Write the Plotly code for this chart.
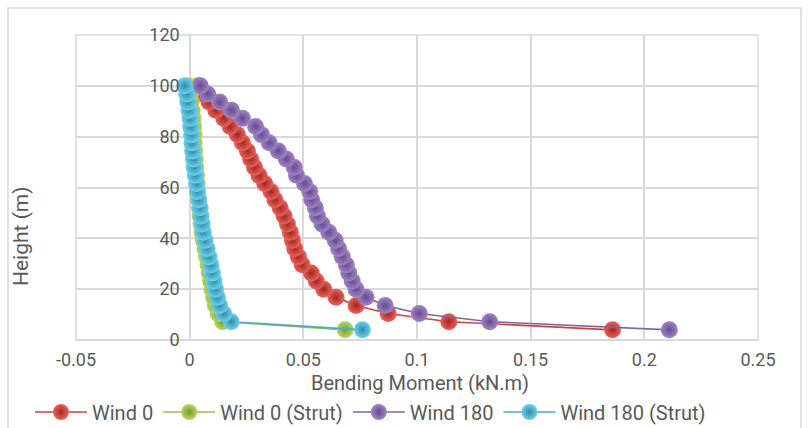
import plotly.graph_objects as go

# Heights along the tower (m)
heights = [4, 7.2, 10.4, 13.6, 16.8, 20, 23.2, 26.4, 29.6, 32.8, 36, 39.2, 42.4,
           45.6, 48.8, 52, 55.2, 58.4, 61.6, 64.8, 68, 71.2, 74.4, 77.6, 80.8, 84,
           87.2, 90.4, 93.6, 96.8, 100]

# Bending moment (kN.m) per load case
wind_0 = [0.186, 0.114, 0.0873, 0.0732, 0.0644, 0.059, 0.0557, 0.0535, 0.0495,
          0.0478, 0.0462, 0.0452, 0.0443, 0.0430, 0.0415, 0.0398, 0.0375, 0.0358,
          0.0330, 0.0305, 0.0285, 0.0268, 0.0254, 0.0232, 0.0210, 0.0178, 0.0150,
          0.0115, 0.0085, 0.0060, 0.0040]
wind_0_strut = [0.0684, 0.0145, 0.0125, 0.0113, 0.0105, 0.0098, 0.0092, 0.0086,
                0.0081, 0.0074, 0.0067, 0.0060, 0.0054, 0.0050, 0.0046, 0.0043,
                0.0039, 0.0035, 0.0033, 0.0030, 0.0027, 0.0025, 0.0022, 0.0020,
                0.0019, 0.0017, 0.0015, 0.0011, 0.0007, 0.0003, -0.0004]
wind_180 = [0.211, 0.132, 0.101, 0.086, 0.0776, 0.0732, 0.0715, 0.0700, 0.0689,
            0.0671, 0.0655, 0.0640, 0.0612, 0.0582, 0.0562, 0.0553, 0.0537, 0.0528,
            0.0505, 0.0470, 0.0460, 0.0425, 0.0390, 0.0350, 0.0316, 0.0290, 0.0232,
            0.0184, 0.0132, 0.0079, 0.0047]
wind_180_strut = [0.076, 0.0183, 0.0150, 0.0132, 0.0122, 0.0114, 0.0107, 0.0100,
                  0.0094, 0.0085, 0.0077, 0.0068, 0.0060, 0.0055, 0.0050, 0.0046,
                  0.0040, 0.0034, 0.0030, 0.0025, 0.0020, 0.0017, 0.0013, 0.0010,
                  0.0008, 0.0005, 0.0002, -0.0003, -0.0008, -0.0013, -0.0022]

x_ticks = [-0.05, 0, 0.05, 0.1, 0.15, 0.2, 0.25]
x_tick_text = ["-0.05", "0", "0.05", "0.1", "0.15", "0.2", "0.25"]
y_ticks = [0, 20, 40, 60, 80, 100, 120]
y_tick_text = ["0", "20", "40", "60", "80", "100", "120"]

# name, values, line colour, sphere centre colour, sphere rim colour
series = [
    ("Wind 0", wind_0, "#D0413A", "#E8635C", "#A32620"),
    ("Wind 0 (Strut)", wind_0_strut, "#9BBB59", "#B8D66A", "#7A9A2C"),
    ("Wind 180", wind_180, "#8064A2", "#9F84C6", "#664A8C"),
    ("Wind 180 (Strut)", wind_180_strut, "#4BACC6", "#6FD0EA", "#2B8DAA"),
]

FONT = "Roboto, sans-serif"
TEXT = "#595959"
GRID = "#D9D9D9"

fig = go.Figure()
for name, vals, line_c, light_c, dark_c in series:
    fig.add_trace(go.Scatter(
        x=vals, y=heights, name=name, mode="lines+markers",
        line=dict(color=line_c, width=1.6),
        marker=dict(size=17, color=light_c, line=dict(width=0),
                    gradient=dict(type="radial", color=dark_c)),
    ))

L, R, T, B = 76, 51, 35, 88
W, H = 809, 428
pw, ph = W - L - R, H - T - B

def px_x(px):
    return (px - L) / pw

def px_y(py):
    return (H - B - py) / ph

fig.update_layout(
    width=W, height=H,
    margin=dict(l=L, r=R, t=T, b=B, autoexpand=False),
    paper_bgcolor="white", plot_bgcolor="white",
    font=dict(family=FONT, color=TEXT, size=18),
    showlegend=True,
    legend=dict(orientation="h", xref="container", yref="container",
                x=30 / W, xanchor="left",
                y=(H - 412) / H, yanchor="middle",
                font=dict(size=20, color=TEXT),
                itemwidth=52, tracegroupgap=0),
    xaxis=dict(range=[-0.05, 0.25], tickvals=x_ticks, ticktext=x_tick_text,
               showgrid=True, gridcolor=GRID, gridwidth=1.5,
               zeroline=False, showline=False, ticks="",
               ticklabelstandoff=7,
               tickfont=dict(size=18, color=TEXT)),
    yaxis=dict(range=[0, 120], tickvals=y_ticks, ticktext=y_tick_text,
               anchor="free", position=(0 - (-0.05)) / 0.3,
               showgrid=True, gridcolor=GRID, gridwidth=1.5,
               zeroline=True, zerolinecolor=GRID, zerolinewidth=1.5,
               showline=False, ticks="", ticklabelstandoff=10,
               tickfont=dict(size=18, color=TEXT)),
    annotations=[
        dict(text="Height (m)", xref="paper", yref="paper",
             x=px_x(21), y=px_y(236), xanchor="center", yanchor="middle",
             textangle=-90, showarrow=False,
             font=dict(size=21, color=TEXT)),
        dict(text="Bending Moment (kN.m)", xref="paper", yref="paper",
             x=px_x(420), y=px_y(383), xanchor="center", yanchor="middle",
             showarrow=False, font=dict(size=20, color=TEXT)),
    ],
    shapes=[
        # plot-area frame
        dict(type="rect", xref="paper", yref="paper", x0=0, x1=1, y0=0, y1=1,
             line=dict(color=GRID, width=1.5), layer="below"),
        # chart border
        dict(type="path", xref="paper", yref="paper",
             path=f"M {px_x(8)},{px_y(430)} L {px_x(8)},{px_y(8)} "
                  f"L {px_x(801)},{px_y(8)} L {px_x(801)},{px_y(430)}",
             line=dict(color=GRID, width=1.5)),
    ],
)

fig.write_html("out.html")
